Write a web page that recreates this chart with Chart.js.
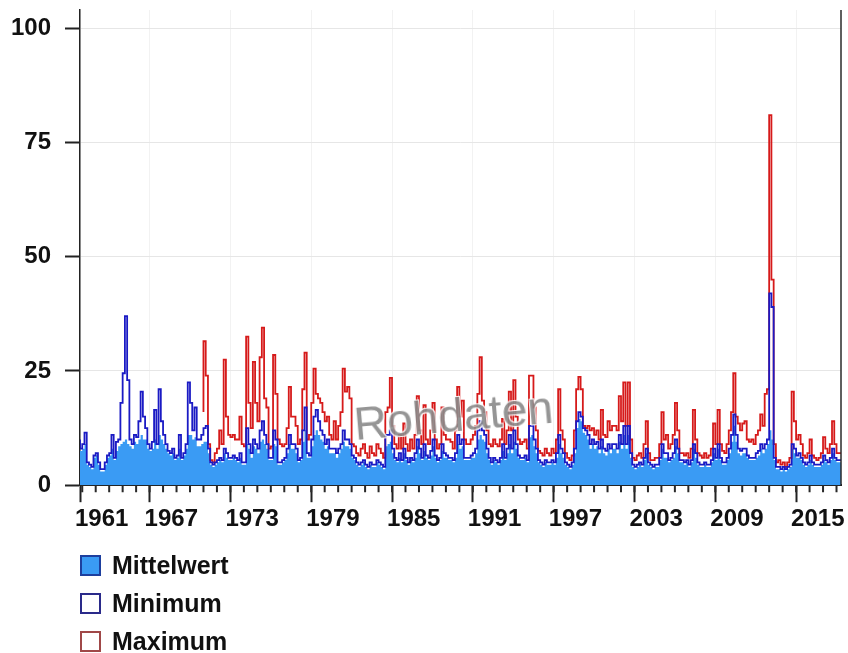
<!DOCTYPE html>
<html>
<head>
<meta charset="utf-8">
<script src="https://cdn.jsdelivr.net/npm/chart.js@4.4.1/dist/chart.umd.min.js"></script>
<style>
  body { margin: 0; background: #fff; }
  #wrap { position: relative; width: 848px; height: 653px; }
  #watermark {
    position: absolute; left: 356px; top: 401px;
    font: 46px "Liberation Sans", Arial, sans-serif; line-height: 1;
    color: #8a8a8a; opacity: 0.9;
    text-shadow: -1px -1px 0 #fff, 1px -1px 0 #fff, -1px 1px 0 #fff, 1px 1px 0 #fff;
    transform: rotate(-5deg); transform-origin: left bottom;
    pointer-events: none; white-space: nowrap;
  }
  #legend {
    position: absolute; left: 80px; top: 546px; margin: 0; padding: 0; list-style: none;
    font: bold 25px "Liberation Sans", Arial, sans-serif; color: #111;
  }
  #legend li { display: flex; align-items: center; height: 38px; }
  #legend .box { width: 17px; height: 17px; border: 2px solid; margin-right: 11px; }
</style>
</head>
<body>
<div id="wrap">
  <canvas id="myChart" width="848" height="653"></canvas>
  <div id="watermark">Rohdaten</div>
  <ul id="legend"></ul>
</div>
<script>
// two-month steps starting Nov 1961, one row = one hydrological year (Nov..Oct)
const START = 1961 + 10 / 12;
const STEP = 2 / 12;
const AXIS_END = 2018 + 4 / 12;
const majorYears = [1967, 1973, 1979, 1985, 1991, 1997, 2003, 2009, 2015];
const yTicks = [0, 25, 50, 75, 100];

const mittelwert = [
  8.5, 7.5, 8, 9, 4.5, 4,
  3.5, 6, 6.5, 4.5, 3, 3,
  4.5, 6, 6.5, 8, 5.5, 7.5,
  8.5, 9, 9.5, 10, 9, 8.5,
  8, 9.5, 9, 10, 11, 10,
  10, 8, 7.5, 8, 10, 8,
  11, 10, 9, 8, 7, 6.5,
  7, 5.5, 6, 8, 5.5, 6.5,
  8, 11, 11, 10, 10.5, 8.5,
  8.5, 9, 9.5, 9.5, 7, 4.5,
  4, 4.5, 5, 5.5, 5, 7,
  6, 5.5, 5.5, 6, 5.5, 5,
  6, 4.5, 4.5, 9, 8, 6,
  8.5, 8, 7, 9.5, 10, 9,
  8, 5.5, 5.5, 9, 8.5, 4.5,
  4.5, 5, 5.5, 7, 9, 8,
  8, 7, 5, 5.5, 9.5, 12,
  6, 6, 8.5, 11, 12, 11,
  10, 9.5, 8, 8.5, 7, 7,
  7, 6, 7, 8, 9.5, 8.5,
  8.5, 8, 6, 5.5, 4.5, 4,
  4.5, 5, 4, 3.5, 4.5, 4,
  4, 5, 4.5, 4, 3.5, 8.5,
  9, 9.5, 7, 5.5, 5, 6,
  5, 7, 5.5, 4.5, 5.5, 5,
  6, 8.5, 7, 5.5, 7.5, 6,
  5.5, 6.5, 8.5, 6, 5, 5.5,
  7.5, 6, 6, 5.5, 5.5, 5,
  6, 9, 8, 8.5, 5.5, 5.5,
  5.5, 6, 6, 7, 10, 11,
  10, 9.5, 7, 5.5, 4.5, 5.5,
  5, 4.5, 5.5, 7.5, 5.5, 7,
  9, 7, 9.5, 8, 6, 5.5,
  5.5, 6, 5, 10.5, 11, 8.5,
  7, 5, 4.5, 4, 5, 4.5,
  4.5, 5, 4.5, 6, 9, 7,
  6, 4.5, 4, 3.5, 4.5, 7,
  12.5, 14.5, 14, 11.5, 11, 10,
  8, 9, 8, 8.5, 7, 8.5,
  7, 6.5, 8, 7, 8, 8,
  7, 9.5, 8, 11, 8, 11,
  6, 4, 3.5, 4, 4.5, 4,
  5.5, 7, 4.5, 4, 3.5, 4,
  4, 5.5, 8, 6, 6, 5,
  5.5, 6, 8.5, 7, 5, 5,
  4.5, 5, 4, 5, 8, 6,
  4.5, 4, 4, 4.5, 4, 4,
  5, 7, 5.5, 8, 5.5, 4.5,
  4.5, 5.5, 7, 9.5, 13, 9.5,
  7, 6.5, 7, 7, 6, 5.5,
  5.5, 5.5, 6, 6.5, 8, 7,
  8, 9, 12, 10, 5.5, 3.5,
  3.5, 3, 3.5, 3, 3.5, 4,
  8, 7, 6, 6, 5.5, 4.5,
  4, 4.5, 5.5, 4.5, 4, 4,
  4, 4.5, 5.5, 5, 4.5, 5.5,
  7, 5.5, 5
];

const minimum = [
  10, 8, 9, 11.5, 5, 4.5,
  4, 6.5, 7, 5, 3.5, 3.5,
  5, 6.5, 7, 11, 6, 9.5,
  10, 18, 24.5, 37, 23, 10,
  9, 11, 10.5, 14, 20.5, 15,
  12.5, 9, 8, 9.5, 16.5, 9,
  21, 14, 11, 9, 7.5, 7,
  8, 6, 6.5, 11, 6, 7,
  9, 22.5, 18, 12, 17, 10,
  10, 11, 12.5, 13, 8, 5,
  4.5, 5, 5.5, 6, 5.5, 8,
  7, 6, 6, 6.5, 6, 5.5,
  7, 5, 5, 12.5, 9, 7,
  10, 9, 8, 12, 14, 11,
  9, 6, 6, 12, 10, 5,
  5, 5.5, 6, 8, 11, 9,
  9, 8, 5.5, 6, 12, 17,
  7, 6.5, 10, 15, 16.5, 14,
  12, 11, 9, 10, 8, 8,
  8, 7, 8, 9, 12, 10,
  10, 9, 6.5, 6, 5, 4.5,
  5, 5.5, 4.5, 4, 5, 4.5,
  4.5, 5.5, 5, 4.5, 4, 11,
  11, 12, 8, 6, 5.5, 7,
  5.5, 8, 6, 5, 6, 5.5,
  7, 10, 8, 6, 9, 6.5,
  6, 7.5, 10, 6.5, 5.5, 6,
  9, 7, 6.5, 6, 6, 5.5,
  7, 11, 9, 10, 6, 6,
  6, 6.5, 7, 8, 12, 14,
  12, 11, 8, 6, 5, 6,
  5.5, 5, 6, 9, 6, 8,
  11, 8, 12, 9, 6.5, 6,
  6, 6.5, 5.5, 13, 13, 10,
  8, 5.5, 5, 4.5, 5.5, 5,
  5, 5.5, 5, 7, 11, 8,
  7, 5, 4.5, 4, 5, 8,
  14, 16, 15, 12.5, 12, 11,
  9, 10, 9, 9.5, 8, 10,
  8, 7.5, 9, 8, 9, 9,
  8, 11, 9, 13, 9, 13,
  7, 4.5, 4, 4.5, 5, 4.5,
  6, 8, 5, 4.5, 4, 4.5,
  4.5, 6, 9, 7, 7, 5.5,
  6, 7, 10, 8, 5.5, 5.5,
  5, 5.5, 4.5, 5.5, 9, 7,
  5, 4.5, 4.5, 5, 4.5, 4.5,
  5.5, 8, 6, 9, 6, 5,
  5, 6, 8, 11, 15.5, 11,
  8, 7.5, 8, 8, 6.5, 6,
  6, 6, 7, 7.5, 9, 8,
  9, 10, 42, 39, 6, 4,
  4, 3.5, 4, 3.5, 4, 4.5,
  9, 8, 6.5, 7, 6, 5,
  4.5, 5, 6.5, 5, 4.5, 4.5,
  4.5, 5, 6.5, 5.5, 5, 6,
  8, 6, 5.5
];

const maximum = [
  null, null, null, null, null, null,
  null, null, null, null, null, null,
  null, null, null, null, null, null,
  null, null, null, null, null, null,
  null, null, null, null, null, null,
  null, null, null, null, null, null,
  null, null, null, null, null, null,
  null, null, null, null, null, null,
  null, null, null, null, null, null,
  null, 16, 31.5, 24, 9, 5.5,
  5, 7, 8, 12, 9, 27.5,
  15, 11, 10.5, 11, 10, 10,
  15, 9, 8.5, 32.5, 18, 12.5,
  27, 18, 14, 28, 34.5, 19,
  17, 8, 8.5, 28.5, 20, 10,
  9, 8.5, 9, 12.5, 21.5, 15,
  15, 13, 9, 10, 21, 29,
  10, 11, 18, 25.5, 20, 19,
  18, 16, 14, 15, 11, 10,
  14, 10, 13, 16, 25.5, 20.5,
  21.5, 19, 9, 8.5, 7, 6.5,
  8, 9, 7, 6, 8.5, 7,
  6.5, 9, 8, 7, 6, 16,
  17, 23.5, 13, 9, 8, 11,
  8, 13.5, 9, 7.5, 10, 8,
  11, 19.5, 12, 9, 17.5, 10,
  9, 12, 18, 10, 8, 9,
  17, 11, 10, 10, 9.5, 8,
  12, 21.5, 15, 18.5, 10, 9,
  9, 10, 11, 13, 20, 28,
  18.5, 16, 12, 9, 8.5, 10,
  9, 8.5, 10, 14.5, 9, 12,
  20.5, 12, 23, 15, 10, 9,
  9.5, 10, 8, 24, 24, 17,
  12, 7.5, 7, 6.5, 8, 7,
  6.5, 8, 7, 10, 21, 12,
  10, 7, 6, 5.5, 6.5, 12,
  21, 23.7, 21, 13, 12.5, 13,
  12, 12.5, 11, 12, 10, 16.5,
  11, 10.5, 14, 12, 13, 13,
  12, 19.5, 14, 22.5, 13, 22.5,
  10, 6, 5.5, 6.5, 7, 6,
  9, 14, 7, 5.5, 5.5, 6,
  6, 9, 16, 10, 11, 8,
  9, 11, 18, 12, 7, 7,
  6.5, 7, 6, 8, 16.5, 10,
  7, 6.5, 6, 7, 6, 6.5,
  8, 13.5, 9, 16.5, 9, 7.5,
  7, 9, 12, 16, 24.5, 15,
  13.5, 12, 13.5, 14, 10, 9.5,
  10, 9, 11, 12, 15.5, 13,
  20, 21, 81, 45, 9, 5,
  5.5, 4.5, 5, 4, 5, 6,
  20.5, 14, 10, 11, 9, 6.5,
  6, 7, 10, 6.5, 6, 5.5,
  6, 7, 10.5, 8, 7, 9,
  14, 9, 7
];

function toPoints(vals) {
  const pts = vals.map((v, i) => ({ x: START + i * STEP, y: v }));
  // close the last step
  pts.push({ x: START + vals.length * STEP, y: vals[vals.length - 1] });
  return pts;
}

const tickFont = { family: '"Liberation Sans", Arial, sans-serif', size: 24, weight: 'bold' };

const frame = {
  id: 'frame',
  afterDraw(chart) {
    const { ctx, chartArea: a, scales: { x } } = chart;
    ctx.save();
    ctx.strokeStyle = '#2a2a2a';
    ctx.lineWidth = 1.5;
    ctx.beginPath();
    ctx.moveTo(a.right, a.top);
    ctx.lineTo(a.right, a.bottom);
    ctx.stroke();
    ctx.lineWidth = 2;
    ctx.beginPath();
    for (let yr = Math.ceil(x.min); yr <= x.max; yr++) {
      const px = x.getPixelForValue(yr);
      ctx.moveTo(px, a.bottom);
      ctx.lineTo(px, a.bottom + 7);
    }
    ctx.stroke();
    ctx.restore();
  }
};

const ctx = document.getElementById('myChart');

const myChart = new Chart(ctx, {
  type: 'line',
  data: {
    datasets: [{
      label: 'Mittelwert',
      data: toPoints(mittelwert),
      stepped: 'after',
      fill: 'origin',
      backgroundColor: '#3a9bf4',
      borderColor: '#3a9bf4',
      borderWidth: 0,
      pointRadius: 0,
      order: 3,
      legendBorder: '#1d3f9e'
    }, {
      label: 'Minimum',
      data: toPoints(minimum),
      stepped: 'after',
      fill: false,
      borderColor: '#1a1ac4',
      borderWidth: 1.8,
      pointRadius: 0,
      order: 1,
      legendBorder: '#2a2a8a'
    }, {
      label: 'Maximum',
      data: toPoints(maximum),
      stepped: 'after',
      fill: false,
      borderColor: '#d61a1a',
      borderWidth: 1.8,
      pointRadius: 0,
      order: 2,
      legendBorder: '#a04848'
    }]
  },
  options: {
    responsive: false,
    animation: false,
    devicePixelRatio: 1,
    layout: { padding: { left: 11, top: 10, right: 7, bottom: 116 } },
    plugins: {
      legend: { display: false },
      tooltip: { enabled: false }
    },
    scales: {
      x: {
        type: 'linear',
        min: START,
        max: AXIS_END,
        afterBuildTicks: s => {
          s.ticks = [START].concat(majorYears).map(v => ({ value: v }));
        },
        afterFit: s => { s.paddingLeft = 0; s.paddingRight = 0; },
        ticks: {
          font: tickFont,
          color: '#111',
          align: 'start',
          labelOffset: -5,
          padding: 3,
          maxRotation: 0,
          autoSkip: false,
          callback: v => String(Math.floor(v))
        },
        grid: { color: 'rgba(0,0,0,0.05)', tickColor: '#222', tickLength: 17, tickWidth: 2 },
        border: { color: '#222', width: 2 }
      },
      y: {
        min: 0,
        max: 104,
        afterBuildTicks: s => { s.ticks = yTicks.map(v => ({ value: v })); },
        afterFit: s => { s.width = 69; s.paddingTop = 0; s.paddingBottom = 0; },
        ticks: { font: tickFont, color: '#111', padding: 14 },
        grid: { color: '#e6e6e6', tickColor: '#222', tickLength: 15, tickWidth: 2 },
        border: { color: '#222', width: 1.5 }
      }
    }
  },
  plugins: [frame]
});

const legendList = document.getElementById('legend');
myChart.data.datasets.forEach(ds => {
  const li = document.createElement('li');
  const box = document.createElement('span');
  box.className = 'box';
  box.style.borderColor = ds.legendBorder;
  box.style.background = ds.fill === 'origin' ? ds.backgroundColor : '#fff';
  li.appendChild(box);
  li.appendChild(document.createTextNode(ds.label));
  legendList.appendChild(li);
});
</script>
</body>
</html>
